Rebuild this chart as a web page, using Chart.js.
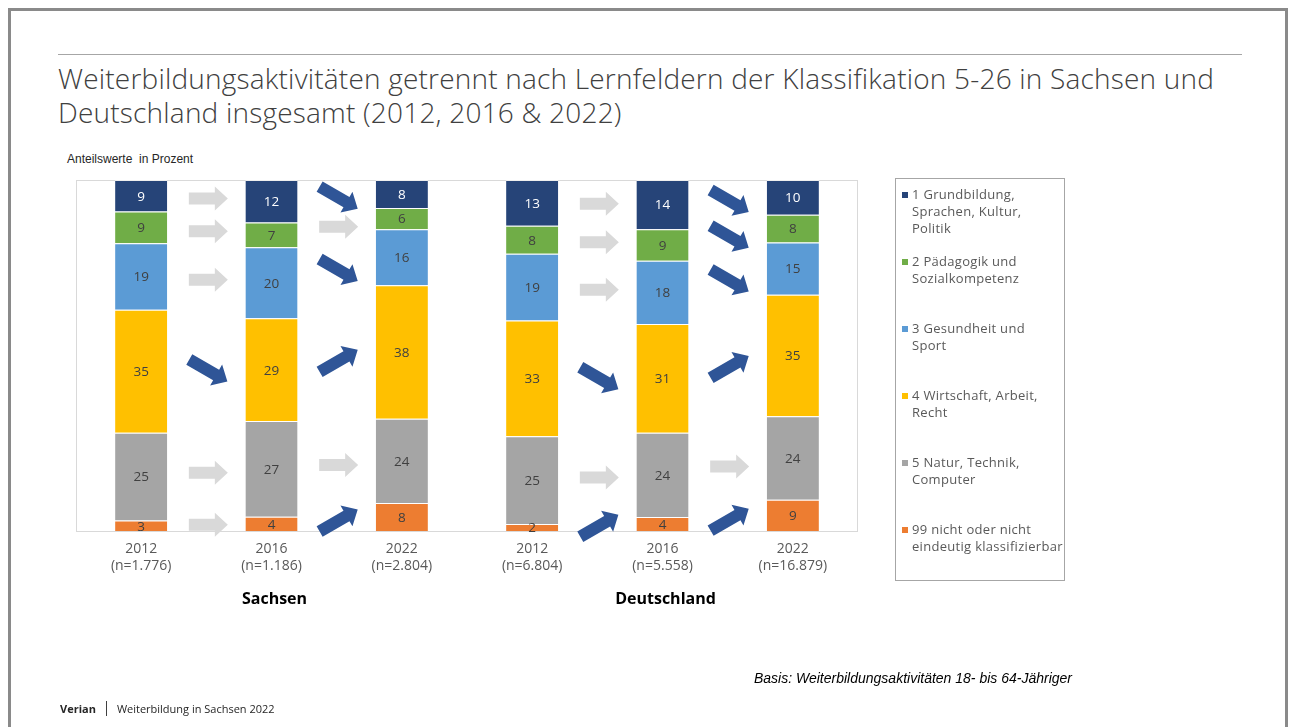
<!DOCTYPE html>
<html lang="de">
<head>
<meta charset="utf-8">
<title>Weiterbildungsaktivitäten nach Lernfeldern</title>
<script src="https://cdn.jsdelivr.net/npm/chart.js"></script>
<style>
    html, body { margin: 0; padding: 0; background: #fff; }
    body { width: 1295px; height: 727px; position: relative; overflow: hidden; font-family: "Open Sans", Lato, sans-serif; }
    #frame { position: absolute; left: 8px; top: 8px; width: 1280px; height: 740px; border: 3px solid #8a8a8a; box-sizing: border-box; }
    #rule { position: absolute; left: 58px; top: 54px; width: 1184px; height: 1px; background: #a6a6a6; }
    #title { position: absolute; left: 58px; top: 61px; font-size: 28px; letter-spacing: 0.2px; line-height: 34px; color: #404040; font-weight: 300; white-space: nowrap; }
    #unit { position: absolute; left: 67px; top: 152px; font-family: "Liberation Sans", Arial, sans-serif; font-size: 12px; color: #262626; }
    #chart { position: absolute; left: 0; top: 0; }
    #legend { position: absolute; left: 895px; top: 178px; width: 170px; height: 403px; border: 1px solid #a6a6a6; box-sizing: border-box; }
    .item { position: absolute; left: 16px; font-size: 13px; letter-spacing: 0.3px; line-height: 17px; color: #595959; white-space: nowrap; }
    .item i { position: absolute; left: -10px; top: 6px; width: 6px; height: 6px; }
    #basis { position: absolute; right: 223px; top: 670px; font-family: "Liberation Sans", Arial, sans-serif; font-style: italic; font-size: 14px; color: #000; }
    #footer { position: absolute; left: 60px; top: 701px; font-size: 11px; color: #262626; }
    #footer b { margin-right: 10px; }
    #footer span { border-left: 1px solid #404040; padding-left: 10px; }
</style>
</head>
<body>
<div id="frame"></div>
<div id="rule"></div>
<div id="title">Weiterbildungsaktivitäten getrennt nach Lernfeldern der Klassifikation 5-26 in Sachsen und<br>Deutschland insgesamt (2012, 2016 &amp; 2022)</div>
<div id="unit">Anteilswerte&nbsp; in Prozent</div>
<canvas id="chart" width="1295" height="727"></canvas>
<div id="legend"></div>
<div id="basis">Basis: Weiterbildungsaktivitäten 18- bis 64-Jähriger</div>
<div id="footer"><b>Verian</b><span>Weiterbildung in Sachsen 2022</span></div>

<script>
// Kategorien
const years = ['2012', '2016', '2022', '2012', '2016', '2022'];
const sampleSizes = ['n=1.776', 'n=1.186', 'n=2.804', 'n=6.804', 'n=5.558', 'n=16.879'];
const regions = ['Sachsen', 'Deutschland'];
const regionOf = [0, 0, 0, 1, 1, 1];

// Anteilswerte in Prozent (Reihenfolge wie Kategorien)
const grundbildung = [9, 12, 8, 13, 14, 10];
const paedagogik = [9, 7, 6, 8, 9, 8];
const gesundheit = [19, 20, 16, 19, 18, 15];
const wirtschaft = [35, 29, 38, 33, 31, 35];
const natur = [25, 27, 24, 25, 24, 24];
const nichtKlassifiziert = [3, 4, 8, 2, 4, 9];

// Pfeile zwischen den Jahren: '=' gleich, 'up' steigend, 'down' fallend
// Übergänge: Sachsen 2012->2016, Sachsen 2016->2022, DE 2012->2016, DE 2016->2022
const transitions = [[0, 1], [1, 2], [3, 4], [4, 5]];
const trendGrundbildung = ['=', 'down', '=', 'down'];
const trendPaedagogik = ['=', '=', '=', 'down'];
const trendGesundheit = ['=', 'down', '=', 'down'];
const trendWirtschaft = ['down', 'up', 'down', 'up'];
const trendNatur = ['=', '=', '=', '='];
const trendNichtKlassifiziert = ['=', 'up', 'up', 'up'];

const FONT = '"Open Sans", Lato, sans-serif';

const series = [
    { name: ['99 nicht oder nicht', 'eindeutig klassifizierbar'], values: nichtKlassifiziert, trend: trendNichtKlassifiziert, color: '#ED7D31', text: '#404040' },
    { name: ['5 Natur, Technik,', 'Computer'], values: natur, trend: trendNatur, color: '#A5A5A5', text: '#404040' },
    { name: ['4 Wirtschaft, Arbeit,', 'Recht'], values: wirtschaft, trend: trendWirtschaft, color: '#FFC000', text: '#404040' },
    { name: ['3 Gesundheit und', 'Sport'], values: gesundheit, trend: trendGesundheit, color: '#5B9BD5', text: '#404040' },
    { name: ['2 Pädagogik und', 'Sozialkompetenz'], values: paedagogik, trend: trendPaedagogik, color: '#70AD47', text: '#404040' },
    { name: ['1 Grundbildung,', 'Sprachen, Kultur,', 'Politik'], values: grundbildung, trend: trendGrundbildung, color: '#264478', text: '#ffffff' }
];

// Summen je Säule, damit jede Säule auf 100 % gestapelt wird
const totals = years.map((_, i) => series.reduce((s, d) => s + d.values[i], 0));

// Legende (oben 1, unten 99)
const legendEl = document.getElementById('legend');
series.slice().reverse().forEach((s, k) => {
    const div = document.createElement('div');
    div.className = 'item';
    div.style.top = (7 + k * 67) + 'px';
    div.innerHTML = `<i style="background:${s.color}"></i>${s.name.join('<br>')}`;
    legendEl.appendChild(div);
});

function drawArrow(ctx, cx, cy, angle, len, color) {
    const shaft = 6, head = 12, headLen = 13, h = len / 2;
    ctx.save();
    ctx.translate(cx, cy);
    ctx.rotate(angle);
    ctx.beginPath();
    ctx.moveTo(-h, -shaft);
    ctx.lineTo(h - headLen, -shaft);
    ctx.lineTo(h - headLen, -head);
    ctx.lineTo(h, 0);
    ctx.lineTo(h - headLen, head);
    ctx.lineTo(h - headLen, shaft);
    ctx.lineTo(-h, shaft);
    ctx.closePath();
    ctx.fillStyle = color;
    ctx.fill();
    ctx.restore();
}

const decorPlugin = {
    id: 'decor',
    beforeDatasetsDraw(chart) {
        const { ctx, chartArea: a } = chart;
        ctx.save();
        ctx.strokeStyle = '#d9d9d9';
        ctx.lineWidth = 1;
        ctx.strokeRect(a.left + 0.5, a.top + 0.5, a.right - a.left - 1, a.bottom - a.top);
        ctx.restore();
    },
    afterDatasetsDraw(chart) {
        const { ctx, chartArea: a } = chart;
        const xScale = chart.scales.x;

        // Werte in den Segmenten
        ctx.save();
        ctx.font = '13.5px ' + FONT;
        ctx.textAlign = 'center';
        ctx.textBaseline = 'middle';
        series.forEach((s, di) => {
            const meta = chart.getDatasetMeta(di);
            meta.data.forEach((bar, i) => {
                const { x, y, base } = bar.getProps(['x', 'y', 'base'], true);
                ctx.fillStyle = s.text;
                ctx.fillText(s.values[i], x, (y + base) / 2 + 1);
            });
        });
        ctx.restore();

        // Pfeile
        series.forEach((s, di) => {
            const meta = chart.getDatasetMeta(di);
            transitions.forEach(([from, to], t) => {
                const b1 = meta.data[from].getProps(['x', 'y', 'base'], true);
                const b2 = meta.data[to].getProps(['x', 'y', 'base'], true);
                const cx = (b1.x + b2.x) / 2 + 2;
                const cy = ((b1.y + b1.base) / 2 + (b2.y + b2.base) / 2) / 2;
                const tr = s.trend[t];
                if (tr === '=') drawArrow(ctx, cx, cy, 0, 39, '#D9D9D9');
                else drawArrow(ctx, cx, cy, tr === 'up' ? -Math.PI / 6 : Math.PI / 6, 44, '#2F5597');
            });
        });

        // Regionsbeschriftung
        ctx.save();
        ctx.font = 'bold 16px ' + FONT;
        ctx.fillStyle = '#000';
        ctx.textAlign = 'center';
        ctx.textBaseline = 'middle';
        regions.forEach((r, ri) => {
            const idx = regionOf.map((g, i) => g === ri ? i : -1).filter(i => i >= 0);
            const mid = idx[Math.floor(idx.length / 2)];
            ctx.fillText(r, xScale.getPixelForValue(mid) + 3, a.bottom + 68);
        });
        ctx.restore();
    }
};

new Chart(document.getElementById('chart'), {
    type: 'bar',
    data: {
        labels: years.map((y, i) => [y, '(' + sampleSizes[i] + ')']),
        datasets: series.map(s => ({
            label: s.name.join(' '),
            data: s.values.map((v, i) => v / totals[i] * 100),
            backgroundColor: s.color,
            borderColor: 'rgba(255,255,255,0.55)',
            borderWidth: { top: 1, left: 0, right: 0, bottom: 0 },
            borderSkipped: false,
            barPercentage: 0.4,
            categoryPercentage: 1.0
        }))
    },
    options: {
        responsive: false,
        animation: false,
        layout: { padding: { left: 76, right: 437, top: 180, bottom: 136 } },
        scales: {
            x: {
                stacked: true,
                grid: { display: false, drawTicks: false },
                border: { display: false },
                ticks: { color: '#595959', font: { size: 14, family: FONT, lineHeight: 1.25 }, padding: 9, maxRotation: 0 },
                afterFit(scale) { scale.height = 60; }
            },
            y: { stacked: true, min: 0, max: 100, display: false }
        },
        plugins: { legend: { display: false }, tooltip: { enabled: false } }
    },
    plugins: [decorPlugin]
});
</script>
</body>
</html>
